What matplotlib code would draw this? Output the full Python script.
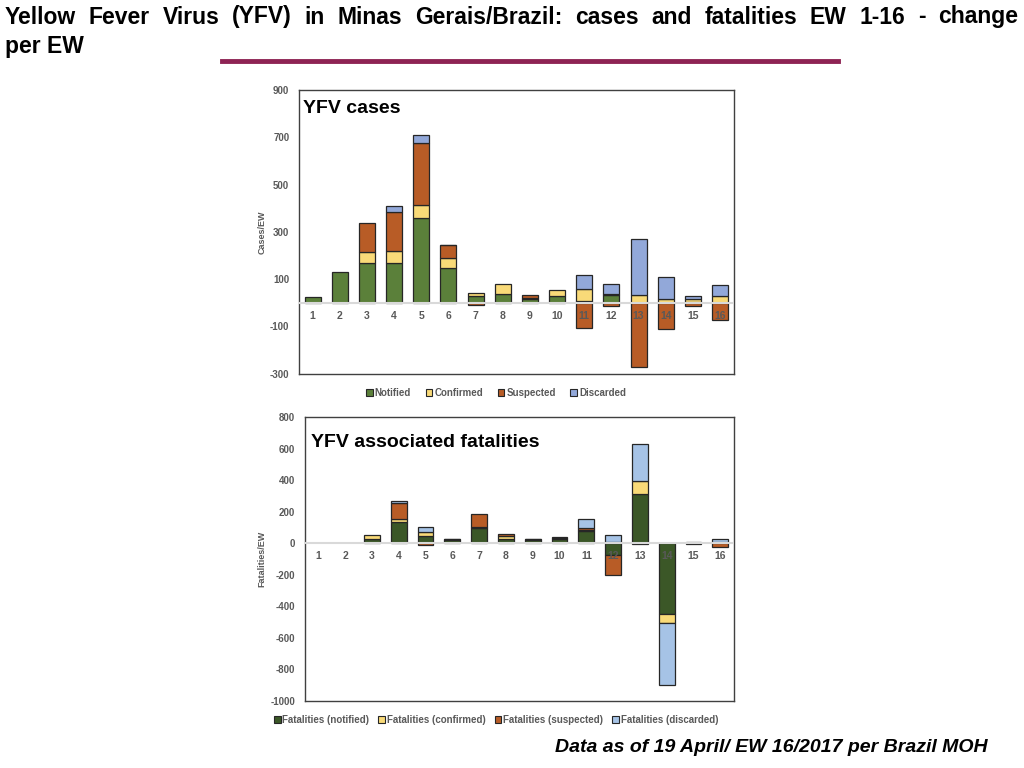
import matplotlib
matplotlib.use("Agg")
import matplotlib.pyplot as plt
from matplotlib.patches import Patch
import numpy as np

plt.rcParams['font.family'] = ['Liberation Sans', 'DejaVu Sans']
plt.rcParams['axes.unicode_minus'] = False

weeks = list(range(1, 17))

# YFV cases, change per EW
cases_notified = [24, 131, 168, 168, 360, 145, 30, 37, 17, 28, 6, 35, 0, 0, 4, 0]
cases_confirmed = [0, 0, 45, 49, 52, 45, 10, 43, 5, 27, 51, 3, 31, 16, 10, 27]
cases_suspected = [0, 0, 123, 169, 262, 53, -11, 0, 10, 0, -105, -15, -272, -109, -15, -71]
cases_discarded = [0, 0, 0, 22, 37, 3, 0, 0, 0, 0, 62, 43, 240, 95, 13, 47]

# YFV associated fatalities, change per EW
fat_notified = [0, 0, 25, 138, 48, 22, 95, 25, 20, 30, 76, -74, 311, -447, 10, 5]
fat_confirmed = [0, 0, 30, 14, 22, 4, 9, 22, 4, 3, 8, 5, 83, -61, 0, 5]
fat_suspected = [0, 0, 0, 102, -8, 4, 80, 10, 6, 4, 11, -127, -5, 0, 0, -23]
fat_discarded = [0, 0, 0, 15, 33, 0, 0, 0, 0, 0, 59, 46, 237, -390, -5, 17]

cases_labels = ['Notified', 'Confirmed', 'Suspected', 'Discarded']
fat_labels = ['Fatalities (notified)', 'Fatalities (confirmed)',
              'Fatalities (suspected)', 'Fatalities (discarded)']

cases_colors = ['#5B803A', '#F9DA78', '#B85C26', '#92A8D9']
fat_colors = ['#3B5727', '#F9DA78', '#B85C26', '#A6C3E6']

GRAY = '#595959'


def stacked(ax, series, colors):
    # excel-style stacking: positives go up, negatives go down
    x = np.array(weeks)
    pos = np.zeros(len(x))
    neg = np.zeros(len(x))
    for vals, c in zip(series, colors):
        v = np.array(vals, dtype=float)
        bottom = np.where(v >= 0, pos, neg)
        keep = v != 0
        ax.bar(x[keep], v[keep], 0.59, bottom=bottom[keep], color=c,
               edgecolor='#262626', linewidth=0.9, zorder=2)
        pos = pos + np.where(v > 0, v, 0)
        neg = neg + np.where(v < 0, v, 0)


def style(ax, lo, hi, step, label_y):
    ax.set_xlim(0.5, 16.5)
    ax.set_ylim(lo, hi)
    ax.set_yticks(np.arange(lo, hi + 1, step))
    ax.set_xticks([])
    ax.tick_params(axis='y', length=0, labelsize=7, labelcolor=GRAY, pad=7)
    for t in ax.get_yticklabels():
        t.set_fontweight('bold')
    for s in ax.spines.values():
        s.set_color('#404040')
        s.set_linewidth(1.0)
    ax.axhline(0, color='#D9D9D9', linewidth=1.5, zorder=3)
    for w in weeks:
        ax.text(w, label_y, str(w), ha='center', va='center', fontsize=7.5,
                color=GRAY, fontweight='bold', zorder=4)


fig = plt.figure(figsize=(10.24, 7.68), dpi=100)

# top chart
ax1 = fig.add_axes([299 / 1024, 1 - 373.7 / 768, 434.7 / 1024, 283.7 / 768])
stacked(ax1, [cases_notified, cases_confirmed, cases_suspected, cases_discarded], cases_colors)
style(ax1, -300, 900, 200, -57)
ax1.text(0.01, 0.935, 'YFV cases', transform=ax1.transAxes, fontsize=14,
         fontweight='bold', va='center', ha='left')
fig.text(262 / 1024, 1 - 232 / 768, 'Cases/EW', rotation=90, ha='center',
         va='center', fontsize=6.5, color=GRAY, fontweight='bold')
h1 = [Patch(facecolor=c, edgecolor='#262626', linewidth=0.8) for c in cases_colors]
fig.legend(h1, cases_labels, loc='center', bbox_to_anchor=(496 / 1024, 1 - 393 / 768),
           ncol=4, frameon=False, handlelength=0.7, handleheight=0.7,
           handletextpad=0.2, columnspacing=1.5, labelcolor=GRAY,
           prop={'weight': 'bold', 'size': 7})

# bottom chart
ax2 = fig.add_axes([305 / 1024, 1 - 700.7 / 768, 428.7 / 1024, 283.4 / 768])
stacked(ax2, [fat_notified, fat_confirmed, fat_suspected, fat_discarded], fat_colors)
style(ax2, -1000, 800, 200, -78)
ax2.text(0.015, 0.91, 'YFV associated fatalities', transform=ax2.transAxes,
         fontsize=14, fontweight='bold', va='center', ha='left')
fig.text(262 / 1024, 1 - 559 / 768, 'Fatalities/EW', rotation=90, ha='center',
         va='center', fontsize=6.5, color=GRAY, fontweight='bold')
h2 = [Patch(facecolor=c, edgecolor='#262626', linewidth=0.8) for c in fat_colors]
fig.legend(h2, fat_labels, loc='center', bbox_to_anchor=(496 / 1024, 1 - 720 / 768),
           ncol=4, frameon=False, handlelength=0.7, handleheight=0.7,
           handletextpad=0.2, columnspacing=0.9, labelcolor=GRAY,
           prop={'weight': 'bold', 'size': 7})

# title, justified first line
line1 = 'Yellow Fever Virus (YFV) in Minas Gerais/Brazil: cases and fatalities EW 1-16 - change'
words = line1.split()
tw = [fig.text(0, 1 - 17 / 768, w, fontsize=16.5, fontweight='bold', va='center')
      for w in words]
fig.canvas.draw()
r = fig.canvas.get_renderer()
widths = [t.get_window_extent(r).width for t in tw]
x0, x1 = 5, 1018
gap = (x1 - x0 - sum(widths)) / (len(words) - 1)
xpos = x0
for t, wd in zip(tw, widths):
    t.set_x(xpos / 1024)
    xpos += wd + gap
fig.text(5 / 1024, 1 - 46 / 768, 'per EW', fontsize=16.5, fontweight='bold', va='center')

fig.add_artist(plt.Line2D([222 / 1024, 838 / 1024], [1 - 61 / 768, 1 - 61 / 768],
                          color='#8E2354', linewidth=3.5, transform=fig.transFigure))

fig.text(988 / 1024, 1 - 748 / 768, 'Data as of 19 April/ EW 16/2017 per Brazil MOH',
         ha='right', va='center', fontsize=14, fontweight='bold', style='italic')

fig.savefig('out.png', dpi=100)
